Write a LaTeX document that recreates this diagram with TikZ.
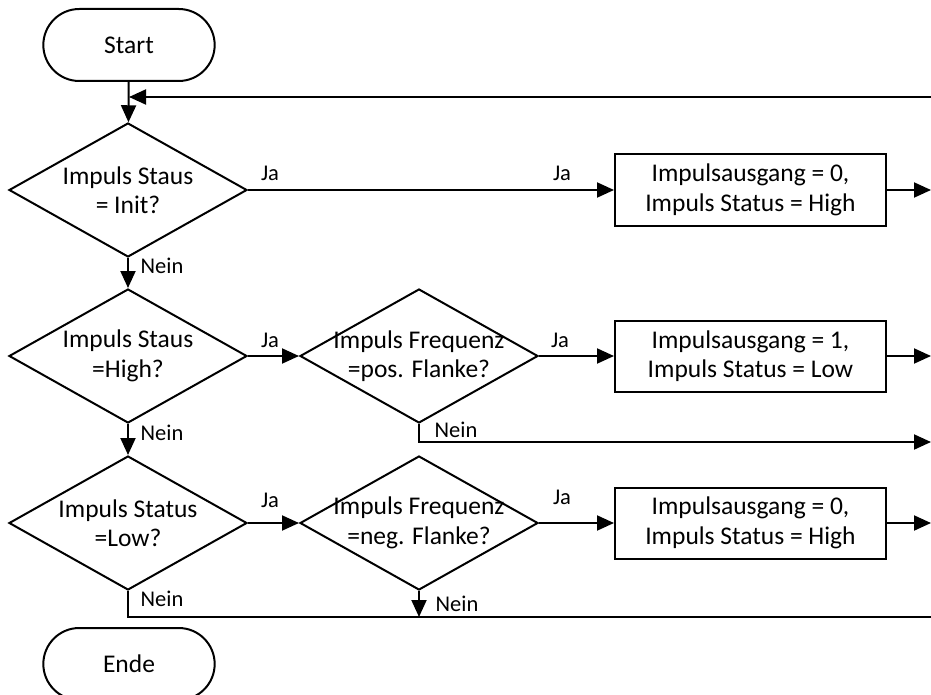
\documentclass[tikz,border=0pt]{standalone}
\usepackage{fontspec}
\setmainfont{Carlito}
\usetikzlibrary{arrows.meta,shapes.geometric,shapes.misc}

\begin{document}
\begin{tikzpicture}[x=1pt,y=-1pt,
  line width=2pt,
  >={Triangle[length=17pt,width=15pt]},
  every node/.style={font=\fontsize{25.5}{29.5}\selectfont},
  terminal/.style={draw, rounded rectangle, minimum width=178pt, minimum height=72pt},
  decision/.style={draw, diamond, minimum width=238pt, minimum height=134pt, inner sep=0pt},
  process/.style={draw, rectangle, minimum width=271pt, minimum height=71pt, align=center, inner sep=0pt},
  dtext/.style={align=center, inner sep=0pt},
  lbl/.style={font=\fontsize{22.5}{26}\selectfont, inner sep=0pt}
]
\useasboundingbox (0,0) rectangle (931,695);

% terminals
\node[terminal] (start) at (129,45) {Start};
\node[terminal] (ende) at (129,664) {Ende};

% decisions
\node[decision] (d1) at (128,190) {};
\node[dtext] (d1t) at (d1.center) {Impuls Staus\\= Init?};
\node[decision] (d2) at (128,356) {};
\node[dtext] (d2t) at (d2.center) {Impuls Staus\\=High?};
\node[decision] (d3) at (419,356) {};
\node[dtext] (d3t) at (d3.center) {Impuls Frequenz\\=pos. Flanke?};
\node[decision] (d4) at (128,523) {};
\node[dtext] (d4t) at (d4.center) {Impuls Status\\=Low?};
\node[decision] (d5) at (419,523) {};
\node[dtext] (d5t) at (d5.center) {Impuls Frequenz\\=neg. Flanke?};

% actions
\node[process] (b1) at (750.5,190) {Impulsausgang = 0,\\Impuls Status = High};
\node[process] (b2) at (750.5,356) {Impulsausgang = 1,\\Impuls Status = Low};
\node[process] (b3) at (750.5,523) {Impulsausgang = 0,\\Impuls Status = High};

% loose ends at the right border
\coordinate (back) at (931,97);
\coordinate (join) at (129,97);
\coordinate (o1) at (931,190);
\coordinate (o2) at (931,356);
\coordinate (o3) at (931,442);
\coordinate (o4) at (931,523);
\coordinate (o5) at (931,617);
\coordinate (n3) at (419,442);
\coordinate (n5) at (419,617);
\coordinate (n4) at (128,617);

% main flow
\draw[->] (start) -- (d1);
\draw[->] (back) -- (join);
\draw[->] (d1.east) -- (b1.west);
\draw[->] (b1.east) -- (o1);
\draw[->] (d1.south) -- (d2.north);
\draw[->] (d2.east) -- (d3.west);
\draw[->] (d3.east) -- (b2.west);
\draw[->] (b2.east) -- (o2);
\draw[->] (d3.south) -- (n3) -- (o3);
\draw[->] (d2.south) -- (d4.north);
\draw[->] (d4.east) -- (d5.west);
\draw[->] (d5.east) -- (b3.west);
\draw[->] (b3.east) -- (o4);
\draw[->] (d5.south) -- (n5);
\draw (d4.south) -- (n4) -- (o5);

% branch labels
\node[lbl] (j1a) at (270,173) {Ja};
\node[lbl] (j1b) at (562,173) {Ja};
\node[lbl] (nn1) at (162,266) {Nein};
\node[lbl] (j2) at (270,340) {Ja};
\node[lbl] (j3) at (560,340) {Ja};
\node[lbl] (nn3) at (456,430) {Nein};
\node[lbl] (nn2) at (162,433) {Nein};
\node[lbl] (j4) at (270,500) {Ja};
\node[lbl] (j5) at (562,497) {Ja};
\node[lbl] (nn5) at (457,604) {Nein};
\node[lbl] (nn4) at (162,599) {Nein};
\end{tikzpicture}
\end{document}
